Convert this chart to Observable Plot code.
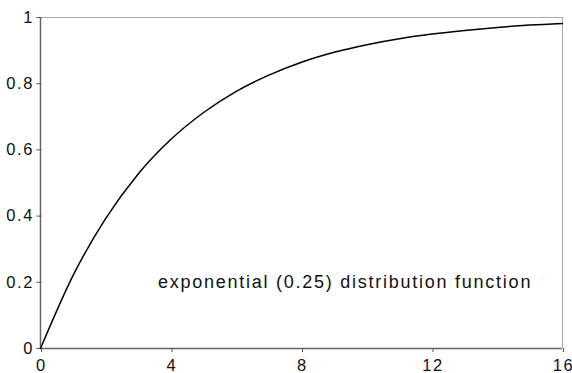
<!DOCTYPE html>
<html>
<head>
<meta charset="utf-8">
<script src="https://cdn.jsdelivr.net/npm/d3@7"></script>
<script src="https://cdn.jsdelivr.net/npm/@observablehq/plot@0.6"></script>
<style>
  html, body { margin: 0; padding: 0; background: #fff; }
  #chart svg { display: block; }
  #chart svg g[aria-label$="tick label"] text { letter-spacing: 1.6px; }
  #chart svg g[aria-label="text"] text { letter-spacing: 1.75px; }
</style>
</head>
<body>
<div id="chart"></div>
<script>
// Distribution function of the exponential law with rate 0.25, sampled at whole x values
const xs = [0, 1, 2, 3, 4, 5, 6, 7, 8, 9, 10, 11, 12, 13, 14, 15, 16];
const fx = [0, 0.221, 0.393, 0.528, 0.632, 0.713, 0.777, 0.826, 0.865, 0.895, 0.918, 0.936, 0.950, 0.961, 0.970, 0.977, 0.982];
const xTicks = [0, 4, 8, 12, 16];
const yTicks = [0, 0.2, 0.4, 0.6, 0.8, 1];
const yTickLabels = ["0", "0.2", "0.4", "0.6", "0.8", "1"];
const label = "exponential (0.25) distribution function";

const points = xs.map((x, i) => ({x, y: fx[i]}));

const chart = Plot.plot({
  width: 572,
  height: 373,
  marginLeft: 40,
  marginRight: 10,
  marginTop: 17,
  marginBottom: 25,
  style: {fontFamily: "'Liberation Sans', Arial, sans-serif", fontSize: "16px", color: "#000", background: "#fff"},
  x: {domain: [0, 16], ticks: xTicks, tickFormat: d => String(d)},
  y: {domain: [0, 1], ticks: yTicks, tickFormat: (d, i) => yTickLabels[i]},
  marks: [
    // light frame on the top and right sides
    Plot.ruleY([1], {stroke: "#aaa", strokeWidth: 1}),
    Plot.ruleX([16], {stroke: "#aaa", strokeWidth: 1}),
    Plot.axisX({ticks: xTicks, tickSize: 4, tickPadding: 7, stroke: "#555", fill: "#111", fontSize: 16.5, label: null, dx: 1}),
    Plot.axisY({ticks: yTicks, tickSize: 5, tickPadding: 3, stroke: "#555", fill: "#111", fontSize: 16.5, label: null, dx: 1.5, tickFormat: (d, i) => yTickLabels[i]}),
    Plot.ruleX([0], {stroke: "#666", strokeWidth: 1.5}),
    Plot.ruleY([0], {stroke: "#666", strokeWidth: 1.5}),
    Plot.line(points, {x: "x", y: "y", curve: "monotone-x", stroke: "#000", strokeWidth: 1.5}),
    Plot.text([label], {x: 3.6, y: 0.2, text: d => d, textAnchor: "start", lineAnchor: "middle", fontSize: 18, fill: "#111"})
  ]
});
document.getElementById("chart").append(chart);
</script>
</body>
</html>
